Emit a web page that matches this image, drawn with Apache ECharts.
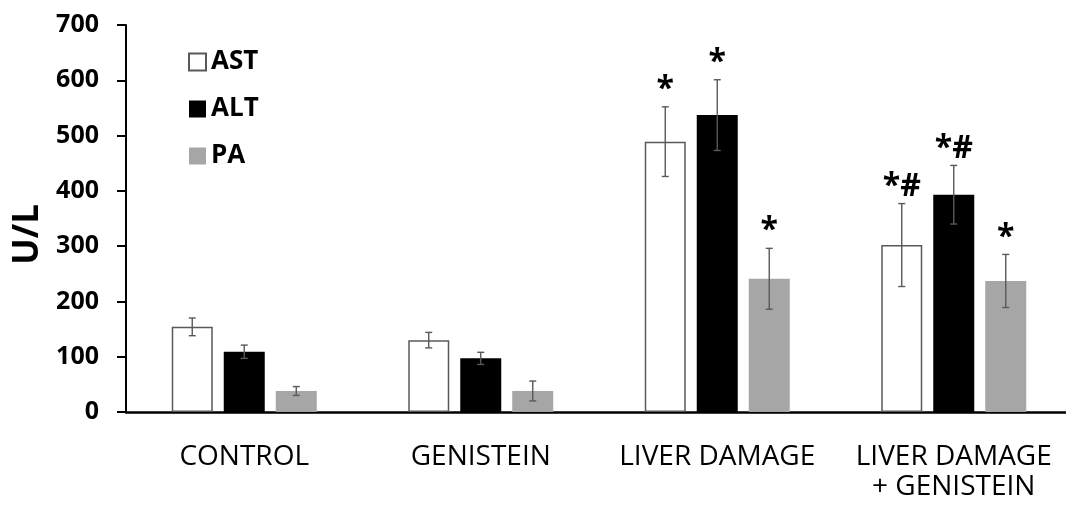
<!DOCTYPE html>
<html>
<head>
<meta charset="utf-8">
<script src="https://cdn.jsdelivr.net/npm/echarts@6/dist/echarts.min.js"></script>
<style>
html,body{margin:0;padding:0;background:#fff;}
#chart{width:1066px;height:514px;}
</style>
</head>
<body>
<div id="chart"></div>
<script>
// ---- data ----
var categories = ['CONTROL', 'GENISTEIN', 'LIVER DAMAGE', 'LIVER DAMAGE\n+ GENISTEIN'];
var astValues = [154, 130, 489, 302];
var astErrors = [16, 14, 63, 75];
var astMarks = ['', '', '*', '*#'];
var altValues = [109, 97, 537, 393];
var altErrors = [12, 11, 64, 53];
var altMarks = ['', '', '*', '*#'];
var paValues = [38, 38, 241, 237];
var paErrors = [8, 18, 55, 48];
var paMarks = ['', '', '*', '*'];
var yMin = 0, yMax = 700, yStep = 100;
var yAxisTitle = 'U/L';

// ---- styling ----
var FONT = "'Open Sans', sans-serif";
var BAR_W = 41;
var BAR_GAP = 11;
var ERR_COLOR = '#595959';

function errData(vals, errs, marks) {
  return vals.map(function (v, i) { return [i, v, errs[i], marks[i]]; });
}

function makeErrSeries(name, vals, errs, marks, slot) {
  return {
    type: 'custom',
    name: name + '_err',
    z: 5,
    silent: true,
    encode: { x: 0, y: 1 },
    data: errData(vals, errs, marks),
    renderItem: function (params, api) {
      var idx = api.value(0), v = api.value(1), e = api.value(2);
      var mark = marks[params.dataIndex];
      var base = api.coord([idx, v]);
      var offset = (slot - 1) * (BAR_W + BAR_GAP);
      var x = base[0] + offset;
      var hi = api.coord([idx, v + e])[1];
      var lo = api.coord([idx, v - e])[1];
      var cap = 3.5;
      var st = { stroke: ERR_COLOR, lineWidth: 1.4 };
      var children = [
        { type: 'line', shape: { x1: x, y1: hi, x2: x, y2: lo }, style: st },
        { type: 'line', shape: { x1: x - cap, y1: hi, x2: x + cap, y2: hi }, style: st },
        { type: 'line', shape: { x1: x - cap, y1: lo, x2: x + cap, y2: lo }, style: st }
      ];
      if (mark) {
        children.push({
          type: 'text',
          style: {
            text: mark, x: x, y: hi - 1,
            align: 'center', verticalAlign: 'bottom',
            font: 'bold 32px ' + FONT, fill: '#000'
          }
        });
      }
      return { type: 'group', children: children };
    }
  };
}

var chart = echarts.init(document.getElementById('chart'), null, { renderer: 'canvas' });
chart.setOption({
  animation: false,
  backgroundColor: '#fff',
  grid: { left: 126, width: 946, top: 25, bottom: 102, outerBoundsMode: 'none', containLabel: false },
  legend: {
    orient: 'vertical',
    left: 183,
    top: 44,
    itemWidth: 17,
    itemHeight: 17,
    itemGap: 21,
    icon: 'rect',
    data: ['AST', 'ALT', 'PA'],
    textStyle: { fontFamily: FONT, fontWeight: 'bold', fontSize: 26, color: '#000', lineHeight: 26 }
  },
  graphic: [{
    type: 'text',
    left: 11,
    top: 204,
    rotation: Math.PI / 2,
    style: { text: yAxisTitle, font: 'bold 35px ' + FONT, fill: '#000' }
  }],
  xAxis: {
    type: 'category',
    data: categories,
    axisLine: { lineStyle: { color: '#000', width: 2.5 } },
    axisTick: { show: false },
    axisLabel: { color: '#000', fontFamily: FONT, fontSize: 28, lineHeight: 30, margin: 30, interval: 0 }
  },
  yAxis: {
    type: 'value',
    min: yMin, max: yMax, interval: yStep,
    axisLine: { show: true, lineStyle: { color: '#000', width: 2 } },
    axisTick: { show: true, length: 9, lineStyle: { color: '#000', width: 2 } },
    splitLine: { show: false },
    axisLabel: { color: '#000', fontFamily: FONT, fontWeight: 'bold', fontSize: 25, margin: 27 }
  },
  series: [
    { name: 'AST', type: 'bar', data: astValues, barWidth: BAR_W, barGap: (BAR_GAP / BAR_W * 100) + '%',
      itemStyle: { color: '#fff', borderColor: '#595959', borderWidth: 1.5 } },
    { name: 'ALT', type: 'bar', data: altValues, barWidth: BAR_W,
      itemStyle: { color: '#000' } },
    { name: 'PA', type: 'bar', data: paValues, barWidth: BAR_W,
      itemStyle: { color: '#a6a6a6' } },
    makeErrSeries('AST', astValues, astErrors, astMarks, 0),
    makeErrSeries('ALT', altValues, altErrors, altMarks, 1),
    makeErrSeries('PA', paValues, paErrors, paMarks, 2)
  ]
});
</script>
</body>
</html>
